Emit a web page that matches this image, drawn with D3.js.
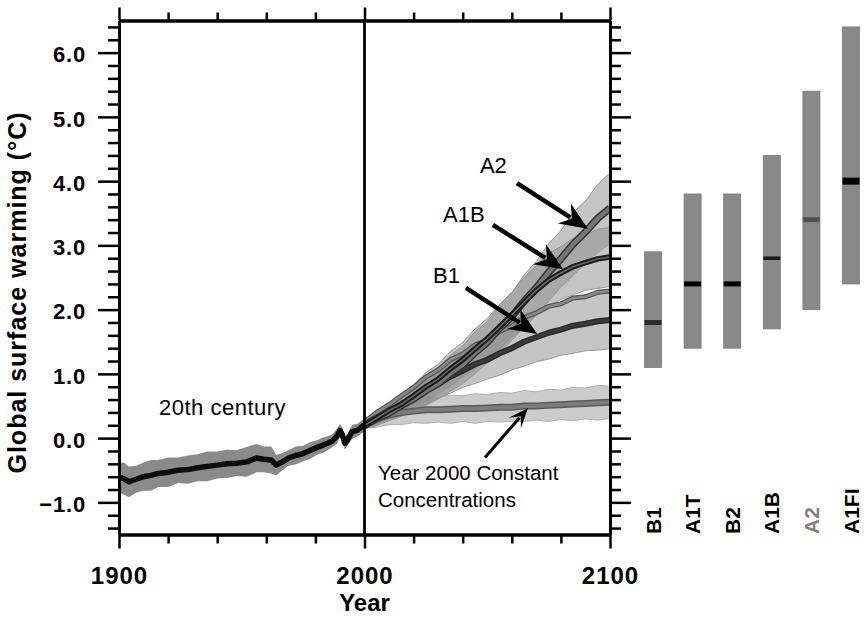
<!DOCTYPE html>
<html>
<head>
<meta charset="utf-8">
<script src="https://cdn.jsdelivr.net/npm/d3@7"></script>
<style>
  body { margin: 0; background: #fff; }
  text { font-family: "Liberation Sans", Arial, Helvetica, sans-serif; }
</style>
</head>
<body>
<div id="chart"></div>
<script>
// ---- data ----
const histYears  = [1900,1902,1904,1907,1910,1913,1916,1920,1924,1928,1932,1936,1940,1944,1948,1952,1956,1959,1962,1964,1966,1969,1972,1975,1978,1981,1983,1985,1987,1989,1990,1991,1992,1993,1995,1997,1999,2000];
const histMean   = [-0.61,-0.63,-0.68,-0.64,-0.60,-0.58,-0.55,-0.53,-0.50,-0.49,-0.46,-0.44,-0.42,-0.40,-0.39,-0.37,-0.31,-0.33,-0.34,-0.42,-0.38,-0.31,-0.27,-0.24,-0.19,-0.14,-0.11,-0.08,-0.04,0.04,0.12,0.05,-0.08,-0.03,0.10,0.12,0.18,0.20];
const histSpread = [0.23,0.25,0.24,0.21,0.22,0.24,0.21,0.23,0.20,0.22,0.21,0.23,0.21,0.22,0.20,0.23,0.22,0.20,0.21,0.16,0.14,0.12,0.14,0.12,0.13,0.11,0.12,0.11,0.10,0.12,0.10,0.11,0.10,0.09,0.11,0.10,0.10,0.10];

const futureYears = [2000,2005,2010,2015,2020,2025,2030,2035,2040,2045,2050,2055,2060,2065,2070,2075,2080,2085,2090,2095,2100];
const a2Mean  = [0.20,0.31,0.39,0.51,0.61,0.74,0.85,1.01,1.14,1.33,1.49,1.71,1.89,2.13,2.34,2.58,2.79,3.02,3.21,3.42,3.58];
const a2Sd    = [0.05,0.11,0.12,0.17,0.18,0.23,0.24,0.28,0.29,0.33,0.32,0.37,0.37,0.41,0.41,0.45,0.44,0.49,0.48,0.53,0.55];
const a1bMean = [0.20,0.31,0.43,0.53,0.66,0.80,0.92,1.08,1.22,1.39,1.55,1.73,1.92,2.11,2.30,2.46,2.57,2.67,2.73,2.79,2.82];
const a1bSd   = [0.05,0.10,0.11,0.16,0.17,0.22,0.23,0.27,0.27,0.31,0.31,0.35,0.35,0.39,0.39,0.42,0.41,0.44,0.43,0.46,0.46];
const b1Mean  = [0.20,0.30,0.41,0.50,0.62,0.74,0.84,0.96,1.05,1.15,1.22,1.32,1.40,1.50,1.57,1.64,1.69,1.75,1.78,1.82,1.84];
const b1Sd    = [0.05,0.10,0.11,0.16,0.17,0.21,0.22,0.26,0.26,0.30,0.30,0.34,0.34,0.38,0.38,0.41,0.40,0.43,0.42,0.45,0.45];
const constMean = [0.20,0.30,0.36,0.40,0.42,0.44,0.44,0.45,0.46,0.46,0.47,0.48,0.48,0.50,0.50,0.51,0.52,0.53,0.54,0.55,0.56];
const constSd   = [0.05,0.13,0.15,0.19,0.18,0.21,0.19,0.22,0.20,0.23,0.21,0.23,0.22,0.24,0.22,0.25,0.23,0.26,0.24,0.27,0.25];

// likely ranges at 2090-2099 (right panel)
const scenarios = ['B1','A1T','B2','A1B','A2','A1FI'];
const bestEst   = [1.8, 2.4, 2.4, 2.8, 3.4, 4.0];
const rangeLow  = [1.1, 1.4, 1.4, 1.7, 2.0, 2.4];
const rangeHigh = [2.9, 3.8, 3.8, 4.4, 5.4, 6.4];

const yMajor = [-1, 0, 1, 2, 3, 4, 5, 6];
const xMajor = [1900, 2000, 2100];

// ---- setup ----
const W = 865, H = 617;
const svg = d3.select('#chart').append('svg')
    .attr('width', W)
    .attr('height', H);

const x = d3.scaleLinear().domain([1900, 2100]).range([119, 610]);
const y = d3.scaleLinear().domain([-1.5, 6.5]).range([534.5, 20.5]);

const rows = (m, s) => futureYears.map((yr, i) => ({year: yr, mean: m[i], sd: s[i]}));
const hist = histYears.map((yr, i) => ({year: yr, mean: histMean[i], sd: histSpread[i]}));
const a2 = rows(a2Mean, a2Sd), a1b = rows(a1bMean, a1bSd), b1 = rows(b1Mean, b1Sd), cst = rows(constMean, constSd);

const band = d3.area()
    .x(d => x(d.year))
    .y0(d => y(d.mean - d.sd))
    .y1(d => y(d.mean + d.sd));
const line = d3.line().x(d => x(d.year)).y(d => y(d.mean));
const upper = d3.line().x(d => x(d.year)).y(d => y(d.mean + d.sd));

const plot = svg.append('g');

// 20th century
plot.append('path').datum(hist).attr('d', band).attr('fill', '#8a8a8a');
plot.append('path').datum(hist).attr('d', line)
    .attr('fill', 'none').attr('stroke', '#0d0d0d').attr('stroke-width', 5.5).attr('stroke-linejoin', 'round');

// projection bands
[cst].forEach(s => plot.append('path').datum(s).attr('d', band)
    .attr('fill', '#9a9a9a').attr('fill-opacity', 0.5).attr('stroke', '#b0b0b0').attr('stroke-width', 1));
[b1, a1b, a2].forEach(s => plot.append('path').datum(s).attr('d', band)
    .attr('fill', '#8c8c8c').attr('fill-opacity', 0.5).attr('stroke', '#999').attr('stroke-width', 1));

function styledLine(data, gen, outer, outerW, inner, innerW) {
    plot.append('path').datum(data).attr('d', gen)
        .attr('fill', 'none').attr('stroke', outer).attr('stroke-width', outerW).attr('stroke-linejoin', 'round');
    plot.append('path').datum(data).attr('d', gen)
        .attr('fill', 'none').attr('stroke', inner).attr('stroke-width', innerW).attr('stroke-linejoin', 'round');
}
styledLine(cst, line, '#5a5a5a', 7, '#7c7c7c', 4);
styledLine(b1, upper, '#555', 5, '#8a8a8a', 2.5);
styledLine(b1, line, '#2a2a2a', 6, '#3a3a3a', 3);
styledLine(a2, line, '#333', 7.5, '#767676', 4.5);
styledLine(a1b, line, '#1a1a1a', 5.5, '#6a6a6a', 1.5);

// year 2000 divider
svg.append('line')
    .attr('x1', x(2000)).attr('x2', x(2000))
    .attr('y1', y(6.5)).attr('y2', y(-1.5))
    .attr('stroke', '#000').attr('stroke-width', 2.8);

// ---- axes ----
const yMinor = d3.range(-14, 65, 2).map(v => v / 10).filter(v => !Number.isInteger(v));
const xMinor = d3.range(1920, 2100, 20).filter(v => v !== 2000);
const fmt = d3.format('.1f');

function styleAxis(g) {
    g.select('.domain').attr('stroke-width', 3);
    g.selectAll('.tick line').attr('stroke-width', 2.5);
}

svg.append('g').attr('transform', `translate(${x(1900)},0)`)
    .call(d3.axisLeft(y).tickValues(yMinor).tickSize(11).tickSizeOuter(0).tickFormat(''))
    .call(styleAxis);
svg.append('g').attr('transform', `translate(${x(1900)},0)`)
    .call(d3.axisLeft(y).tickValues(yMajor).tickSize(21).tickSizeOuter(0).tickPadding(12).tickFormat(fmt))
    .call(styleAxis)
    .call(g => g.selectAll('text')
        .attr('font-size', 22).attr('font-weight', 'bold').attr('letter-spacing', 0.8)
        .attr('fill', '#000').attr('dy', '0.42em')
        .style('font-family', '"Liberation Sans", Arial, sans-serif'));

svg.append('g').attr('transform', `translate(${x(2100)},0)`)
    .call(d3.axisRight(y).tickValues(yMinor).tickSize(11).tickSizeOuter(0).tickFormat(''))
    .call(styleAxis);
svg.append('g').attr('transform', `translate(${x(2100)},0)`)
    .call(d3.axisRight(y).tickValues(yMajor).tickSize(21).tickSizeOuter(0).tickFormat(''))
    .call(styleAxis);

svg.append('g').attr('transform', `translate(0,${y(-1.5)})`)
    .call(d3.axisBottom(x).tickValues(xMinor).tickSize(9).tickSizeOuter(0).tickFormat(''))
    .call(styleAxis);
svg.append('g').attr('transform', `translate(0,${y(-1.5)})`)
    .call(d3.axisBottom(x).tickValues(xMajor).tickSize(14).tickSizeOuter(0).tickPadding(18).tickFormat(d3.format('d')))
    .call(styleAxis)
    .call(g => g.selectAll('text')
        .attr('font-size', 24).attr('font-weight', 'bold').attr('letter-spacing', 1)
        .attr('fill', '#000')
        .style('font-family', '"Liberation Sans", Arial, sans-serif'));

svg.append('g').attr('transform', `translate(0,${y(6.5)})`)
    .call(d3.axisTop(x).tickValues(xMinor).tickSize(8).tickSizeOuter(0).tickFormat(''))
    .call(styleAxis);
svg.append('g').attr('transform', `translate(0,${y(6.5)})`)
    .call(d3.axisTop(x).tickValues(xMajor).tickSize(13).tickSizeOuter(0).tickFormat(''))
    .call(styleAxis);

// axis titles
svg.append('text')
    .attr('transform', `translate(26,${(y(-1.5) + y(6.5)) / 2 + 15}) rotate(-90)`)
    .attr('text-anchor', 'middle')
    .attr('font-size', 25).attr('font-weight', 'bold').attr('letter-spacing', 1)
    .text('Global surface warming (°C)');
svg.append('text')
    .attr('x', x(2000)).attr('y', 611)
    .attr('text-anchor', 'middle')
    .attr('font-size', 24).attr('font-weight', 'bold')
    .text('Year');

// ---- annotations ----
function label(txt, yr, v, size) {
    svg.append('text').attr('x', x(yr)).attr('y', y(v))
        .attr('font-size', size).attr('fill', '#000').text(txt);
}
label('A2', 2047.0, 4.13, 22);
label('A1B', 2032.0, 3.36, 22);
label('B1', 2027.9, 2.41, 22);
svg.append('text').attr('x', x(1916.3)).attr('y', y(0.36))
    .attr('font-size', 22).attr('letter-spacing', 0.5).text('20th century');
label('Year 2000 Constant', 2005.5, -0.65, 20.5);
label('Concentrations', 2005.5, -1.07, 20.5);

function arrow(yr1, v1, yr2, v2, w, len, half) {
    const x1 = x(yr1), y1 = y(v1), x2 = x(yr2), y2 = y(v2);
    const a = Math.atan2(y2 - y1, x2 - x1), c = Math.cos(a), s = Math.sin(a);
    const bx = x2 - len * c, by = y2 - len * s;
    svg.append('line')
        .attr('x1', x1).attr('y1', y1).attr('x2', bx + 4 * c).attr('y2', by + 4 * s)
        .attr('stroke', '#000').attr('stroke-width', w);
    const pts = [
        [x2, y2],
        [bx - 3 * c + half * s, by - 3 * s - half * c],
        [bx + 6 * c, by + 6 * s],
        [bx - 3 * c - half * s, by - 3 * s + half * c]
    ];
    svg.append('path').attr('d', 'M' + pts.join('L') + 'Z').attr('fill', '#000');
}
arrow(2062.1, 3.97, 2091.0, 3.26, 4.5, 25, 12);
arrow(2052.3, 3.32, 2080.9, 2.63, 4.5, 25, 12);
arrow(2041.3, 2.34, 2070.3, 1.62, 4.5, 25, 12);
arrow(2049.1, -0.30, 2066.6, 0.47, 3, 17, 8);

// ---- right panel: likely ranges ----
const xs = d3.scalePoint().domain(scenarios).range([633.2, 870.8]).padding(0.5);
const barW = 17;
const medianStyle = {
    B1:   {color: '#2b2b2b', w: 5},
    A1T:  {color: '#000',    w: 5},
    B2:   {color: '#000',    w: 5},
    A1B:  {color: '#1a1a1a', w: 3.5},
    A2:   {color: '#505050', w: 5},
    A1FI: {color: '#000',    w: 7}
};
const panel = svg.append('g');
panel.selectAll('rect')
    .data(scenarios)
    .enter()
    .append('rect')
        .attr('x', d => xs(d) - barW / 2)
        .attr('y', (d, i) => y(rangeHigh[i]))
        .attr('width', barW)
        .attr('height', (d, i) => y(rangeLow[i]) - y(rangeHigh[i]))
        .attr('fill', '#898989')
        .attr('stroke', '#7a7a7a').attr('stroke-width', 0.8);
panel.selectAll('line.med')
    .data(scenarios)
    .enter()
    .append('line')
        .attr('class', 'med')
        .attr('x1', d => xs(d) - barW / 2).attr('x2', d => xs(d) + barW / 2)
        .attr('y1', (d, i) => y(bestEst[i])).attr('y2', (d, i) => y(bestEst[i]))
        .attr('stroke', d => medianStyle[d].color)
        .attr('stroke-width', d => medianStyle[d].w);
panel.selectAll('text')
    .data(scenarios)
    .enter()
    .append('text')
        .attr('transform', d => `translate(${xs(d) + 7.5},534) rotate(-90)`)
        .attr('font-size', 21).attr('font-weight', 'bold')
        .attr('fill', d => d === 'A2' ? '#808080' : '#000')
        .text(d => d);
</script>
</body>
</html>
